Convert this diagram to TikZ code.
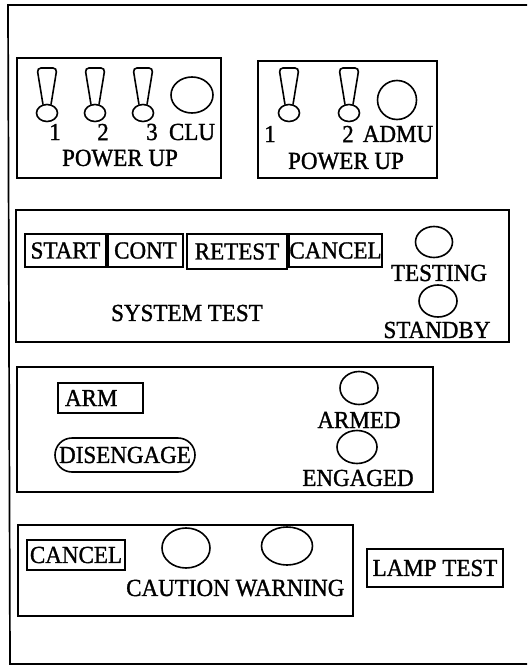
\documentclass[tikz,border=0pt]{standalone}
\usepackage{fontspec}
\setmainfont{Liberation Serif}[FakeStretch=0.94, FakeBold=1.2]
\usetikzlibrary{shapes.geometric}
\newcommand{\panelfont}{\fontsize{24.5}{27}\selectfont}

\begin{document}
\begin{tikzpicture}[
  x=1pt, y=-1pt,
  font=\panelfont,
  line width=1.6pt,
  panel/.style={draw, line width=1.7pt},
  btn/.style={draw, rectangle, inner sep=0pt, line width=1.6pt},
  lamp/.style={draw, ellipse, inner sep=0pt, line width=1.6pt},
  lbl/.style={inner sep=0pt},
  toggle/.pic={
    \draw (0,0) ellipse (10.5 and 8.5);
    \draw[rounded corners=4pt] (-4,-8.5) -- (-10,-45) -- (10,-45) -- (4,-8.5);
  },
]
\useasboundingbox (0,0) rectangle (527,666);

% outer frame
\draw[panel] (527,5) -- (8,5) -- (10,664) -- (527,664);

% CLU power up
\draw[panel] (17,58) rectangle (221,178);
\pic at (47,113) {toggle};
\pic at (95,113) {toggle};
\pic at (143,113) {toggle};
\node[lamp, minimum width=42pt, minimum height=36pt] (clu) at (192,95) {};
\node[lbl] (c1) at (55,132) {1};
\node[lbl] (c2) at (103,132) {2};
\node[lbl] (c3) at (152,132) {3};
\node[lbl] (clut) at (192,132) {CLU};
\node[lbl] (cpwr) at (120,158) {POWER UP};

% ADMU power up
\draw[panel] (258,61) rectangle (437,178);
\pic at (289,113) {toggle};
\pic at (349,113) {toggle};
\node[lamp, minimum width=39pt, minimum height=39pt] (admu) at (397,100) {};
\node[lbl] (a1) at (270,134) {1};
\node[lbl] (a2) at (348,134) {2};
\node[lbl] (admut) at (398,134) {ADMU};
\node[lbl] (apwr) at (346,161) {POWER UP};

% system test
\draw[panel] (16,210) rectangle (509,342);
\node[btn, minimum width=81pt, minimum height=33pt] (start)  at (65.5,250.5) {START};
\node[btn, minimum width=75pt, minimum height=33pt] (cont)   at (145.5,250.5) {CONT};
\node[btn, minimum width=100pt, minimum height=35pt] (retest) at (237,251.5) {RETEST};
\node[btn, minimum width=93pt, minimum height=33pt] (cancel) at (335.5,250.5) {CANCEL};
\node[lamp, minimum width=37pt, minimum height=31pt] (testing) at (434,242) {};
\node[lbl] (testingt) at (439,273) {TESTING};
\node[lamp, minimum width=38pt, minimum height=32pt] (standby) at (438,301) {};
\node[lbl] (standbyt) at (437,330) {STANDBY};
\node[lbl] (systest) at (187,313) {SYSTEM TEST};

% arm / engage
\draw[panel] (17,367) rectangle (433,492);
\node[btn, text width=71pt, align=left, inner xsep=7pt, minimum height=30pt] (arm) at (100.5,398) {ARM};
\node[btn, rounded corners=17pt, minimum width=140pt, minimum height=34pt] (diseng) at (125,455) {DISENGAGE};
\node[lamp, minimum width=38pt, minimum height=33pt] (armed) at (359,388) {};
\node[lbl] (armedt) at (359,420) {ARMED};
\node[lamp, minimum width=40pt, minimum height=33pt] (engaged) at (357,447) {};
\node[lbl] (engagedt) at (358,478) {ENGAGED};

% caution / warning
\draw[panel] (18,525) rectangle (353,616);
\node[btn, minimum width=98pt, minimum height=30pt] (cancelcw) at (76,555) {CANCEL};
\node[lamp, minimum width=48pt, minimum height=40pt] (caution) at (186,548) {};
\node[lamp, minimum width=51pt, minimum height=38pt] (warning) at (287,546) {};
\node[lbl] (cautiont) at (178,588) {CAUTION};
\node[lbl] (warningt) at (290,588) {WARNING};

% lamp test
\node[btn, minimum width=136pt, minimum height=38pt] (lamptest) at (435,568) {LAMP TEST};

\end{tikzpicture}
\end{document}
